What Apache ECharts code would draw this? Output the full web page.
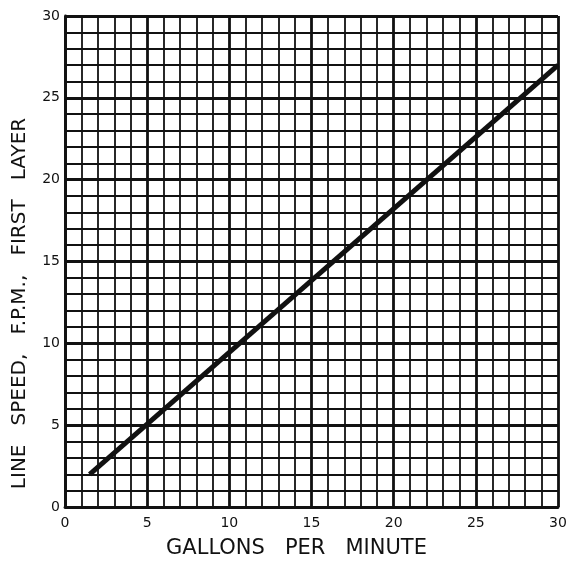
<!DOCTYPE html>
<html>
<head>
<meta charset="utf-8">
<script src="https://cdn.jsdelivr.net/npm/echarts@6/dist/echarts.min.js"></script>
<style>
html, body { margin: 0; background: #fff; }
#chart { width: 569px; height: 562px; }
</style>
</head>
<body>
<div id="chart"></div>
<script>
// straight line from (1.5, 2) to (30, 27)
var gpm = [1.5, 30];
var lineSpeed = [2, 27];
var xTitle = 'GALLONS   PER   MINUTE';
var yTitle = 'LINE   SPEED,   F.P.M.,   FIRST   LAYER';

var points = [];
for (var i = 0; i < gpm.length; i++) {
	points.push([gpm[i], lineSpeed[i]]);
}

var ink = '#111';
var font = 'DejaVu Sans';

var chart = echarts.init(document.getElementById('chart'));

var option = {
	backgroundColor: '#fff',
	animation: false,
	grid: {
		left: 65,
		right: 11,
		top: 16,
		bottom: 55,
		outerBoundsMode: 'none'
	},
	xAxis: {
		type: 'value',
		min: 0,
		max: 30,
		interval: 5,
		name: xTitle,
		nameLocation: 'middle',
		nameGap: 31,
		nameTextStyle: { color: ink, fontSize: 21, fontFamily: font, padding: [0, 30, 0, 0] },
		axisLine: { lineStyle: { color: ink, width: 2.8 } },
		axisTick: { show: false },
		minorTick: { show: false, splitNumber: 5 },
		axisLabel: { color: ink, fontSize: 14, fontFamily: font, margin: 9 },
		splitLine: { show: true, lineStyle: { color: ink, width: 2.8 } },
		minorSplitLine: { show: true, lineStyle: { color: ink, width: 1.8 } }
	},
	yAxis: {
		type: 'value',
		min: 0,
		max: 30,
		interval: 5,
		name: yTitle,
		nameLocation: 'middle',
		nameGap: 35,
		nameTextStyle: { color: ink, fontSize: 20, fontFamily: font, padding: [0, 84, 0, 0] },
		axisLine: { show: true, lineStyle: { color: ink, width: 2.8 } },
		axisTick: { show: false },
		minorTick: { show: false, splitNumber: 5 },
		axisLabel: { color: ink, fontSize: 14, fontFamily: font, margin: 5 },
		splitLine: { show: true, lineStyle: { color: ink, width: 2.8 } },
		minorSplitLine: { show: true, lineStyle: { color: ink, width: 1.8 } }
	},
	series: [{
		type: 'line',
		data: points,
		showSymbol: false,
		lineStyle: { color: ink, width: 5, cap: 'butt' }
	}]
};

chart.setOption(option);
</script>
</body>
</html>
